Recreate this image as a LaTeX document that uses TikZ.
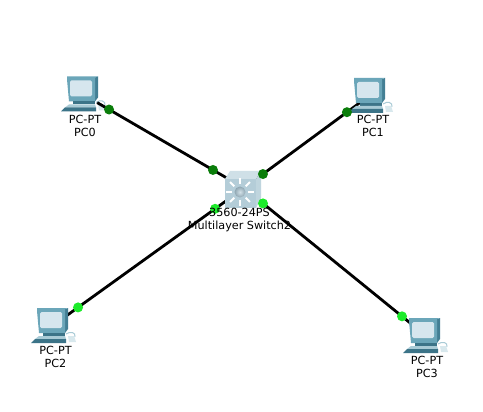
\documentclass[tikz,border=0pt]{standalone}
\usepackage{fontspec}
\setmainfont{DejaVu Sans}
\usepackage{xcolor}
\usetikzlibrary{calc}
\definecolor{pcframe}{HTML}{6BA6B9}
\definecolor{pcside}{HTML}{437F94}
\definecolor{pcscreen}{HTML}{D6E6EE}
\definecolor{pcdesk}{HTML}{3C7488}
\definecolor{pcpale}{HTML}{A9CBD6}
\definecolor{swfront}{HTML}{B4CDD8}
\definecolor{swtop}{HTML}{CFE0E7}
\definecolor{swside}{HTML}{BFD5DE}
\definecolor{swball}{HTML}{8FA6B2}
\definecolor{linkdark}{HTML}{0A7D0A}
\definecolor{linklight}{HTML}{1CEB2A}
\tikzset{
    anchorpt/.style={inner sep=0pt, minimum size=0pt},
    devlabel/.style={align=center, inner sep=0pt, font=\fontsize{11.2}{13}\selectfont},
    link/.style={draw=black, line width=2.8pt},
    portdark/.style={circle, fill=linkdark, inner sep=0pt, minimum size=10pt},
    portlight/.style={circle, fill=linklight, inner sep=0pt, minimum size=10pt},
    pcicon/.pic={
        \fill[pcside] (14,-11) -- (17,-12) -- (17,9) -- (14,13) -- cycle;
        \fill[pcframe] (-14,-12) -- (17,-12) -- (14,-11) -- (14,13) -- (-12,13) -- (-14,-9) -- cycle;
        \fill[pcscreen, rounded corners=1.5pt] (-11,-8) rectangle (11,8);
        \fill[pcdesk] (-8,13) rectangle (14,16);
        \fill[pcpale] (-12,16) -- (14,16) -- (15,19) -- (-16,19) -- cycle;
        \fill[pcdesk] (-16,19) -- (15,19) -- (15,23) -- (-20,23) -- cycle;
        \draw[pcpale, line width=1pt] (15,14) .. controls (19,11) and (25,12) .. (24,17);
        \fill[pcpale!45] (17,16) -- (23,16) -- (25,22) -- (18,22) -- cycle;
    },
    swicon/.pic={
        \fill[swtop] (-19,-9) -- (-14,-17) -- (17,-17) -- (12,-9) -- cycle;
        \fill[swside] (12,-9) -- (17,-17) -- (17,10) -- (12,20) -- cycle;
        \fill[swfront] (-19,-9) rectangle (12,20);
        \foreach \a in {0,45,...,315}
            \draw[white, line width=2pt] (-4,4)+(\a:8) -- +(\a:14);
        \shade[inner color=swfront!60, outer color=swball] (-4,4) circle (5.5);
    },
}
\begin{document}
\begin{tikzpicture}[x=1pt, y=-1pt, node distance=30pt]
    \useasboundingbox (0,0) rectangle (483,412);
    \fill[white] (0,0) rectangle (483,412);

    \node (sw) [anchorpt] at (244,188) {};
    \node (pc0) [anchorpt] at (97,102.5) {};
    \node (pc1) [anchorpt] at (373,93) {};
    \node (pc2) [anchorpt] at (55,324) {};
    \node (pc3) [anchorpt] at (425,335) {};

    \pic at (81,88.5) {pcicon};

    \draw[link] (sw) -- (pc0);
    \draw[link] (sw) -- (pc1);
    \draw[link] (sw) -- (pc2);
    \draw[link] (sw) -- (pc3);

    \pic at (368,90) {pcicon};
    \pic at (51,320) {pcicon};
    \pic at (423,330) {pcicon};
    \pic at (sw) {swicon};

    \node (sw0) [portdark] at ($(sw)!.211!(pc0)$) {};
    \node (p0) [portdark] at ($(sw)!.918!(pc0)$) {};
    \node (sw1) [portdark] at ($(sw)!.147!(pc1)$) {};
    \node (p1) [portdark] at ($(sw)!.798!(pc1)$) {};
    \node (sw2) [portlight] at ($(sw)!.153!(pc2)$) {};
    \node (p2) [portlight] at ($(sw)!.878!(pc2)$) {};
    \node (sw3) [portlight] at ($(sw)!.105!(pc3)$) {};
    \node (p3) [portlight] at ($(sw)!.873!(pc3)$) {};

    % labels under the devices
    \node (pc0label) [devlabel] at (85,125.5) {PC-PT\\PC0};
    \node (pc1label) [devlabel] at (373,125.5) {PC-PT\\PC1};
    \node (pc2label) [devlabel] at (55.5,356.5) {PC-PT\\PC2};
    \node (pc3label) [devlabel] at (427,366.5) {PC-PT\\PC3};
    \node (swlabel) [devlabel] at (239.5,220.5) {3560-24PS\\Multilayer Switch2};
\end{tikzpicture}
\end{document}
